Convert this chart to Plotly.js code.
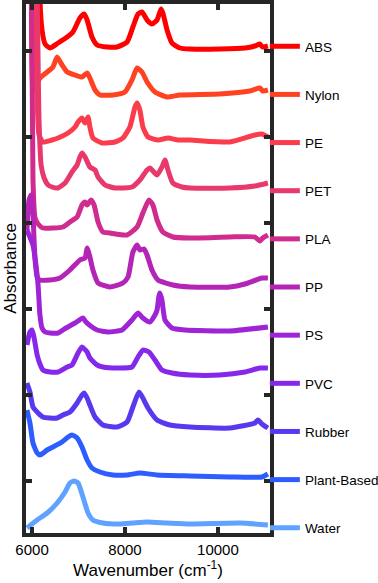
<!DOCTYPE html>
<html>
<head>
<meta charset="utf-8">
<script src="https://cdn.plot.ly/plotly-3.0.1.min.js"></script>
<style>html,body{margin:0;padding:0;background:#fff;}#chart{width:378px;height:583px;}</style>
</head>
<body>
<div id="chart"></div>
<script>
// Sample names (legend order, top to bottom)
const samples = ["ABS", "Nylon", "PE", "PET", "PLA", "PP", "PS", "PVC", "Rubber", "Plant-Based", "Water"];
const colors = ["#FF0000", "#FF4221", "#FA3C4C", "#E8386C", "#D02B8E", "#B424B6", "#9E24D6", "#8628EA", "#5A38F0", "#2D5DFF", "#5FA2FF"];

// Offset absorbance spectra (arbitrary units), wavenumber in cm^-1
const absX = [5890, 6110, 6170, 6215, 6280, 6385, 6560, 6755, 6880, 7030, 7120, 7185, 7290, 7400, 7615, 7830, 8045, 8170, 8280, 8365, 8475, 8580, 8690, 8775, 8815, 8905, 9010, 9180, 9400, 10040, 10580, 10795, 10900, 10965, 11075];
const absY = [683, 683, 533, 503, 489, 485, 490, 496, 501, 515, 519, 513, 496, 488, 486, 486, 491, 506, 519, 521, 513, 509, 513, 524, 520, 503, 490, 485, 484, 484, 485, 487, 489, 486, 487];

const nylonX = [5890, 5980, 6020, 6065, 6110, 6170, 6325, 6450, 6540, 6645, 6755, 6925, 7075, 7185, 7245, 7355, 7460, 7740, 8000, 8150, 8260, 8365, 8475, 8645, 8905, 9180, 10040, 10685, 10900, 10965, 11075];
const nylonY = [683, 583, 445, 443, 449, 455, 461, 466, 476, 468, 461, 458, 456, 460, 455, 443, 438, 438, 441, 453, 465, 461, 451, 441, 436, 438, 439, 442, 445, 442, 443];

const peX = [5890, 6045, 6110, 6150, 6235, 6430, 6560, 6775, 6925, 6990, 7075, 7140, 7205, 7245, 7310, 7505, 7785, 7955, 8105, 8215, 8260, 8320, 8385, 8495, 8710, 8925, 9140, 9400, 10255, 10795, 10945, 11075];
const peY = [683, 583, 433, 398, 391, 393, 395, 400, 406, 411, 415, 410, 416, 406, 395, 390, 391, 395, 406, 426, 430, 423, 406, 396, 393, 395, 393, 393, 391, 398, 399, 396];

const petX = [5890, 6085, 6150, 6195, 6260, 6345, 6430, 6560, 6710, 6860, 6970, 7030, 7075, 7140, 7245, 7355, 7420, 7570, 7785, 8150, 8320, 8475, 8535, 8690, 8795, 8860, 8925, 9030, 9225, 9400, 10255, 10795, 11075];
const petY = [683, 583, 413, 368, 355, 348, 346, 345, 350, 361, 368, 376, 380, 376, 366, 363, 356, 348, 345, 346, 353, 363, 365, 358, 366, 373, 363, 350, 346, 345, 345, 347, 350];

const plaX = [5890, 5980, 6020, 6065, 6130, 6235, 6450, 6665, 6815, 6970, 7075, 7140, 7185, 7270, 7335, 7420, 7525, 7675, 8045, 8260, 8385, 8515, 8600, 8690, 8815, 9030, 9400, 10255, 10795, 10900, 10965, 11075];
const plaY = [683, 583, 353, 315, 309, 305, 305, 306, 311, 316, 328, 331, 328, 333, 328, 311, 301, 300, 298, 306, 320, 333, 328, 313, 301, 296, 295, 296, 296, 292, 295, 298];

const ppX = [5890, 5935, 5980, 6020, 6065, 6110, 6170, 6385, 6600, 6815, 7030, 7140, 7185, 7245, 7310, 7420, 7675, 7955, 8065, 8170, 8260, 8320, 8410, 8475, 8580, 8710, 9030, 9400, 10255, 10580, 10945, 11075];
const ppY = [303, 333, 338, 318, 273, 256, 253, 253, 255, 263, 273, 275, 285, 276, 263, 250, 246, 250, 256, 281, 288, 283, 284, 278, 263, 253, 248, 246, 246, 249, 255, 255];

const psX = [5890, 6020, 6085, 6130, 6170, 6215, 6280, 6385, 6560, 6730, 6925, 7095, 7160, 7290, 7400, 7635, 7935, 8150, 8280, 8385, 8535, 8645, 8690, 8730, 8750, 8795, 8860, 9010, 9290, 10255, 11075];
const psY = [303, 288, 268, 248, 218, 205, 201, 200, 200, 205, 210, 215, 211, 206, 203, 201, 203, 213, 220, 215, 211, 218, 223, 237, 240, 233, 213, 205, 203, 202, 206];

const pvcX = [5890, 5955, 6000, 6045, 6110, 6170, 6235, 6385, 6560, 6755, 6860, 6990, 7075, 7185, 7245, 7400, 7525, 7890, 8150, 8280, 8385, 8515, 8645, 8795, 9010, 9400, 10040, 10580, 10900, 11075];
const pvcY = [188, 201, 203, 195, 178, 169, 163, 161, 161, 166, 168, 180, 186, 181, 175, 168, 166, 165, 166, 176, 183, 181, 173, 163, 160, 158, 158, 161, 165, 165];

const rubberX = [5890, 5955, 6020, 6130, 6235, 6385, 6540, 6665, 6815, 6970, 7075, 7120, 7185, 7245, 7355, 7525, 7830, 8045, 8170, 8300, 8385, 8495, 8690, 8965, 9400, 10255, 10795, 10860, 10945, 11075];
const rubberY = [150, 141, 126, 120, 116, 115, 115, 118, 121, 130, 138, 140, 135, 128, 116, 108, 106, 111, 126, 141, 135, 125, 113, 108, 106, 105, 110, 113, 109, 105];

const plantX = [5890, 5955, 6020, 6110, 6170, 6325, 6450, 6645, 6775, 6860, 6970, 7075, 7185, 7290, 7460, 7740, 8045, 8320, 8690, 9400, 10255, 10945, 11075];
const plantY = [123, 110, 90, 80, 78, 83, 86, 91, 96, 98, 95, 86, 73, 65, 61, 58, 58, 60, 58, 57, 56, 56, 59];

const waterX = [5890, 6110, 6325, 6540, 6710, 6815, 6905, 6990, 7095, 7205, 7310, 7525, 7890, 8170, 8475, 8905, 9400, 10470, 11075];
const waterY = [5, 13, 20, 30, 41, 50, 52, 50, 36, 20, 13, 10, 9, 10, 11, 10, 9, 10, 8];

const xTicks = [6000, 8000, 10000];

const seriesX = [absX, nylonX, peX, petX, plaX, ppX, psX, pvcX, rubberX, plantX, waterX];
const seriesY = [absY, nylonY, peY, petY, plaY, ppY, psY, pvcY, rubberY, plantY, waterY];

const font = "Liberation Sans, Arial, Helvetica, sans-serif";
const frame = "#262626";

const traces = samples.map((name, i) => ({
  type: "scatter",
  mode: "lines",
  name: name,
  legendgroup: name,
  x: seriesX[i],
  y: seriesY[i],
  line: {color: colors[i], width: 5, shape: "spline", smoothing: 0.5}
}));

const layout = {
  width: 378,
  height: 583,
  margin: {l: 26, r: 108, t: 4, b: 50, autoexpand: false},
  paper_bgcolor: "#ffffff",
  plot_bgcolor: "#ffffff",
  font: {family: font, color: "#000000"},
  showlegend: true,
  legend: {
    x: 0.979, xanchor: "left", y: 0.949, yanchor: "top",
    font: {family: font, size: 13.5, color: "#000000"},
    tracegroupgap: 27.6,
    traceorder: "grouped",
    bgcolor: "rgba(0,0,0,0)",
    borderwidth: 0
  },
  xaxis: {
    range: [5870, 11120],
    tickvals: xTicks,
    ticktext: xTicks.map(String),
    ticks: "inside", ticklen: 6, tickwidth: 4, tickcolor: frame,
    showline: true, linewidth: 4, linecolor: frame, mirror: "ticks",
    showgrid: false, zeroline: false,
    tickfont: {family: font, size: 15, color: "#000000"},
    title: {text: "Wavenumber (cm<sup>-1</sup>)", font: {family: font, size: 17, color: "#000000"}, standoff: 6}
  },
  yaxis: {
    range: [0, 529],
    tick0: 52, dtick: 86,
    showticklabels: false,
    ticks: "inside", ticklen: 6, tickwidth: 4, tickcolor: frame,
    showline: true, linewidth: 4, linecolor: frame, mirror: "ticks",
    showgrid: false, zeroline: false,
    title: {text: "Absorbance", font: {family: font, size: 17, color: "#000000"}, standoff: 2}
  }
};

Plotly.newPlot("chart", traces, layout, {displayModeBar: false, staticPlot: true});
</script>
</body>
</html>
